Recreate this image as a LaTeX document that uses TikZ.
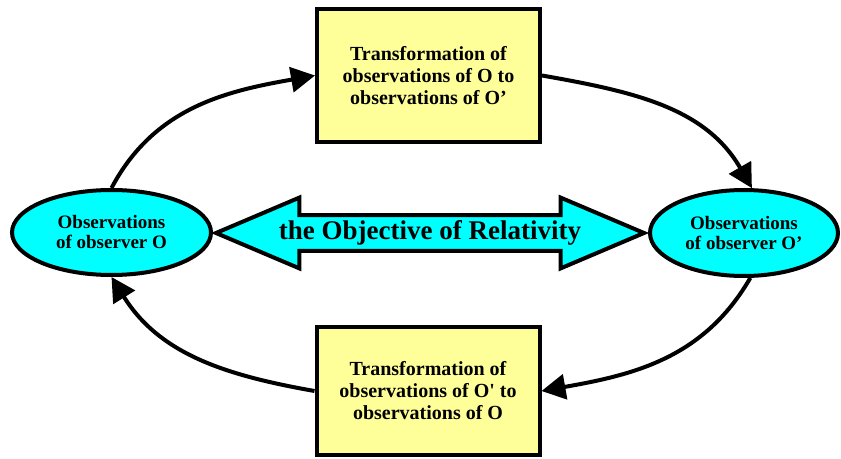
\documentclass[tikz,border=0pt]{standalone}
\usepackage{fontspec}
\setmainfont{Liberation Serif}
\usetikzlibrary{arrows.meta,shapes,positioning}
\definecolor{boxyellow}{RGB}{255,255,153}
\definecolor{obscyan}{RGB}{0,255,255}

\begin{document}
\begin{tikzpicture}[x=1pt,y=1pt,
    trbox/.style={draw, line width=4pt, fill=boxyellow, minimum width=223pt, align=center,
      font=\bfseries\fontsize{20}{22}\selectfont},
    obs/.style={ellipse, draw, line width=4pt, fill=obscyan, align=center,
      font=\bfseries\fontsize{19}{20}\selectfont},
    flow/.style={-{Triangle[length=24pt,width=25pt]}, line width=4pt}]
  \useasboundingbox (0,0) rectangle (841,458);

  % Observers
  \node[obs, minimum width=199pt, minimum height=85pt] (obsO) at (111.5,225.5) {Observations\\of observer O};
  \node[obs, minimum width=188pt, minimum height=86pt] (obsP) at (744,225) {Observations\\of observer O’};

  % Transformations
  \node[trbox, minimum height=133pt] (toP) at (428.5,382.5) {Transformation of\\observations of O to\\observations of O’};
  \node[trbox, minimum height=128pt] (toO) at (428,67) {Transformation of\\observations of O\textquotesingle{} to\\observations of O};

  % Objective
  \node[double arrow, draw, line width=4pt, fill=obscyan, inner ysep=3.5pt,
    double arrow head extend=17.5pt, double arrow tip angle=46, minimum height=428pt,
    font=\bfseries\fontsize{27}{29}\selectfont] (goal) at (430,225) {the Objective of Relativity};

  % Arcs
  \draw[flow] (obsO.north) to[out=62, in=190] (toP.west);
  \draw[flow] (toP.east) to[out=-10, in=120] (obsP.80);
  \draw[flow] (obsP.-82) to[out=240, in=10] (toO.east);
  \draw[flow] (toO.west) to[out=170, in=-58] (obsO.south);
\end{tikzpicture}
\end{document}
